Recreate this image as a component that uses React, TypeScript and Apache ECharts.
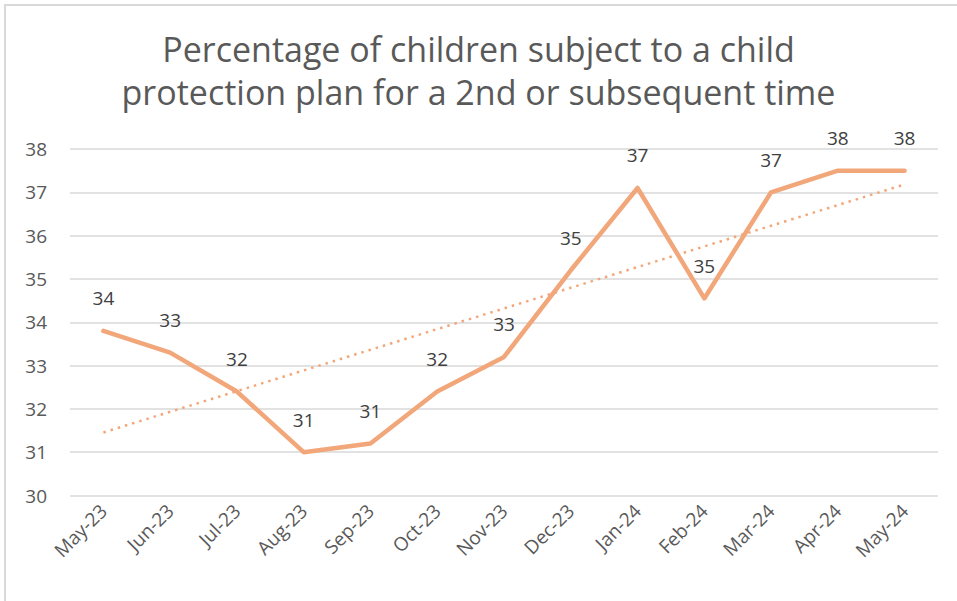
import React, { useEffect, useRef } from "react";
import * as echarts from "echarts";

const titleText = "Percentage of children subject to a child\nprotection plan for a 2nd or subsequent time";
const categories = ["May-23", "Jun-23", "Jul-23", "Aug-23", "Sep-23", "Oct-23", "Nov-23", "Dec-23", "Jan-24", "Feb-24", "Mar-24", "Apr-24", "May-24"];
const values = [33.8, 33.3, 32.4, 31.0, 31.2, 32.4, 33.2, 35.2, 37.1, 34.55, 37.0, 37.5, 37.5];
const yMin = 30;
const yMax = 38;
const yInterval = 1;

function linearTrend(ys: number[]): number[] {
  const n = ys.length;
  const xm = (n - 1) / 2;
  const ym = ys.reduce((a, b) => a + b, 0) / n;
  let sxy = 0;
  let sxx = 0;
  ys.forEach((y, i) => {
    sxy += (i - xm) * (y - ym);
    sxx += (i - xm) * (i - xm);
  });
  const slope = sxy / sxx;
  return ys.map((_, i) => +(ym + slope * (i - xm)).toFixed(3));
}

export default function App() {
  const ref = useRef<HTMLDivElement>(null);
  useEffect(() => {
    if (!ref.current) return;
    const chart = echarts.init(ref.current, undefined, { renderer: "svg" });
    const color = "#F2A77B";
    const font = "'Open Sans', 'Liberation Sans', sans-serif";
    chart.setOption({
      animation: false,
      backgroundColor: "#ffffff",
      textStyle: { fontFamily: font },
      title: {
        text: titleText,
        left: "center",
        top: 22,
        textStyle: {
          fontFamily: font,
          fontSize: 34,
          fontWeight: "normal",
          color: "#595959",
          lineHeight: 43,
        },
      },
      graphic: [
        {
          type: "rect",
          shape: { x: 5, y: 5, width: 1000, height: 700 },
          style: { fill: "none", stroke: "#d9d9d9", lineWidth: 2 },
          silent: true,
        },
      ],
      grid: { left: 70, right: 19, top: 149, bottom: 105.5 },
      xAxis: {
        type: "category",
        data: categories,
        boundaryGap: true,
        axisLine: { show: false },
        axisTick: { show: false },
        axisLabel: {
          rotate: 45,
          color: "#595959",
          fontSize: 19,
          margin: 12,
          fontFamily: font,
        },
      },
      yAxis: {
        type: "value",
        min: yMin,
        max: yMax,
        interval: yInterval,
        axisLine: { show: false },
        axisTick: { show: false },
        splitLine: { lineStyle: { color: "#d9d9d9", width: 1.5 } },
        axisLabel: {
          color: "#595959",
          fontSize: 19,
          margin: 23,
          fontFamily: font,
        },
      },
      series: [
        {
          name: "Percentage",
          type: "line",
          data: values,
          symbol: "circle",
          symbolSize: 2,
          showSymbol: true,
          itemStyle: { color: "rgba(0,0,0,0)", borderWidth: 0 },
          lineStyle: { color, width: 4.5, cap: "round", join: "round" },
          label: {
            show: true,
            position: "top",
            distance: 22,
            color: "#404040",
            fontSize: 19,
            fontFamily: font,
            formatter: (p: any) => String(Math.round(p.value)),
          },
          labelLayout: { hideOverlap: false },
          z: 3,
        },
        {
          name: "Trend",
          type: "line",
          data: linearTrend(values),
          symbol: "none",
          lineStyle: { color, width: 2.5, type: [2.5, 5] },
          z: 2,
        },
      ],
    });
    return () => chart.dispose();
  }, []);
  return (
    <div
      ref={ref}
      style={{ position: "fixed", left: 0, top: 0, width: 957, height: 601 }}
    />
  );
}
